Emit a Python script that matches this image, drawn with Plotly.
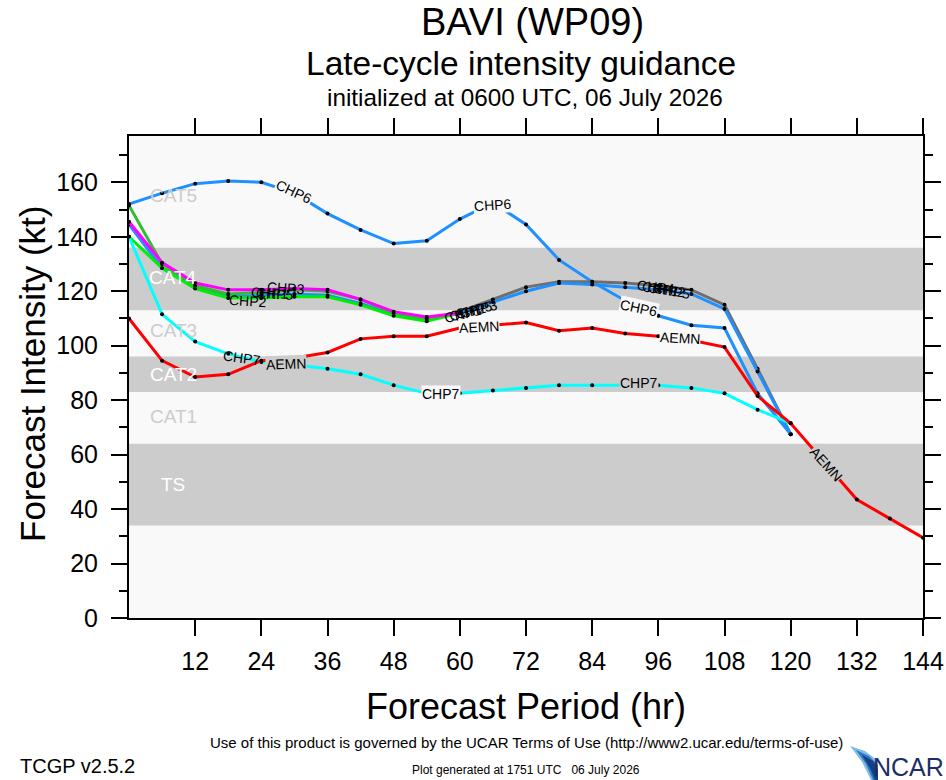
import plotly.graph_objects as go

W, H = 946, 780
L, R, T, B = 129, 23, 136, 162

# forecast hours, 6-hourly
hours = list(range(0, 145, 6))

# intensities (kt)
chp6 = [152, 156, 159.5, 160.5, 160, 156, 148.5, 142.5, 137.5, 138.5, 146.5,
        152.5, 144.5, 131.5, 123.5, 116.5, 111, 107.5, 106.5, 82.5, 67.5]
chp4_hours = hours[9:21]
chp4 = [109.5, 112.5, 117, 121.5, 123.5, 123.5, 123, 122, 120.5, 115, 91.5, 67.5]
chp5 = [144.5, 128.5, 121.5, 118, 118.5, 119, 118.5, 115.5, 111.5, 109.5, 112,
        116, 120, 123, 122.5, 121.5, 120.5, 119, 113.5, 90.5, 67.5]
chp2 = [140, 128.5, 121, 117.5, 117.5, 118, 118, 115, 111, 109, 112]
chp1 = [151.5, 130, 122, 119, 119.5, 120.5, 120, 117, 112, 110, 112]
chp3 = [145.5, 130.5, 123, 120.5, 120.5, 121, 120.5, 117, 112.5, 110.5, 112]
chp7 = [140, 111.5, 101.5, 97, 94, 93, 91.5, 89.5, 85.5, 82.5, 82.5, 83.5,
        84.5, 85.5, 85.5, 85.5, 85.5, 84.5, 82.5, 76.5, 71.5]
aemn = [110, 94.5, 88.5, 89.5, 94.5, 95.5, 97.5, 102.5, 103.5, 103.5, 106.5,
        107.5, 108.5, 105.5, 106.5, 104.5, 103.5, 102, 99.5, 81.5, 71.5, 57.5,
        43.5, 36.5, 29.5]

# saffir-simpson bands
bands = [(34, 64), (83, 96), (113, 136)]
cat_names = ["CAT5", "CAT4", "CAT3", "CAT2", "CAT1", "TS"]
cat_kt = [155, 125, 105.5, 89.5, 74, 49]

xticks = list(range(12, 145, 12))

LIGHT = "#f9f9f9"
BAND = "#cccccc"
FONT = "Liberation Sans, Arial, sans-serif"


def px_x(x):
    return (x - L) / (W - L - R)


def px_y(y):
    return (H - B - y) / (H - T - B)


def page_text(txt, xp, yp, size, anchor="center", angle=0, color="black"):
    # text placed by page pixel position
    return dict(x=px_x(xp), y=px_y(yp), xref="paper", yref="paper",
                text=txt, showarrow=False,
                xanchor=anchor, yanchor="middle", textangle=angle,
                font=dict(family=FONT, size=size, color=color))


fig = go.Figure()

# (name, x, y, colour) in drawing order
series = [
    ("CHP6", hours[:len(chp6)], chp6, "#1e90ff"),
    ("CHP4", chp4_hours, chp4, "#6e6e6e"),
    ("CHP5", hours[:len(chp5)], chp5, "#1e90ff"),
    ("CHP2", hours[:len(chp2)], chp2, "#00ee00"),
    ("CHP1", hours[:len(chp1)], chp1, "#33bb33"),
    ("CHP3", hours[:len(chp3)], chp3, "#ff00ff"),
    ("CHP7", hours[:len(chp7)], chp7, "#00ffff"),
    ("AEMN", hours[:len(aemn)], aemn, "#ff0000"),
]
for name, x, y, col in series:
    fig.add_trace(go.Scatter(x=x, y=y, name=name, mode="lines+markers",
                             line=dict(color=col, width=3),
                             marker=dict(color="black", size=4),
                             showlegend=False))

shapes = []
for lo, hi in bands:
    shapes.append(dict(type="rect", xref="paper", x0=0, x1=1, yref="y", y0=lo, y1=hi,
                       fillcolor=BAND, line=dict(width=0), layer="below"))

annotations = []
# category labels
for nm, kt in zip(cat_names, cat_kt):
    on_band = any(lo <= kt <= hi for lo, hi in bands)
    annotations.append(dict(x=8, y=kt, xref="x", yref="y", text=nm, showarrow=False,
                            font=dict(family=FONT, size=19,
                                      color="white" if on_band else "#cccccc")))

# line labels: text, hour, kt, angle, background
line_labels = [
    ("CHP6", 30, 156.5, 25, LIGHT),
    ("CHP6", 66, 151.5, -4, LIGHT),
    ("CHP6", 92.5, 114, 12, LIGHT),
    ("CHP7", 20.5, 95.5, 8, None),
    ("AEMN", 28.5, 93.3, -2, BAND),
    ("CHP7", 56.5, 82.3, 0, LIGHT),
    ("AEMN", 63.5, 107, -3, LIGHT),
    ("CHP7", 92.5, 86.2, 0, BAND),
    ("AEMN", 100, 102.8, 3, LIGHT),
    ("AEMN", 126.4, 56.5, 48, BAND),
    ("CHP2", 21.5, 116.3, 4, None),
    ("CHP1", 25.5, 119.5, 3, None),
    ("CHP5", 26.5, 119, 3, None),
    ("CHP3", 28.5, 121.2, 4, None),
    ("CHP1", 60.5, 111.8, -14, None),
    ("CHP2", 61.5, 112.2, -14, None),
    ("CHP5", 62.5, 113, -14, None),
    ("CHP3", 63.5, 113.6, -14, None),
    ("CHP4", 95.5, 121.4, 6, None),
    ("CHP1", 96.5, 120.8, 8, None),
    ("CHP2", 97.5, 120.5, 8, None),
    ("CHP5", 98.5, 120, 10, None),
]
for txt, hx, kt, ang, bg in line_labels:
    a = dict(x=hx, y=kt, xref="x", yref="y", text=txt, showarrow=False, textangle=ang,
             font=dict(family=FONT, size=14, color="black"), borderpad=0)
    if bg:
        a["bgcolor"] = bg
    annotations.append(a)

# titles
annotations.append(page_text("BAVI (WP09)", 532, 22, 38))
annotations.append(page_text("Late-cycle intensity guidance", 521, 63, 33.5))
annotations.append(page_text("initialized at 0600 UTC, 06 July 2026", 525, 97, 24.3))

# axis titles
annotations.append(page_text("Forecast Period (hr)", 526, 706, 36))
annotations.append(page_text("Forecast Intensity (kt)", 32, 374, 35, angle=-90))

# footer
annotations.append(page_text("Use of this product is governed by the UCAR Terms of Use (http://www2.ucar.edu/terms-of-use)",
                             526, 742, 15))
annotations.append(page_text("TCGP v2.5.2", 18, 766, 20, anchor="left"))
annotations.append(page_text("Plot generated at 1751 UTC   06 July 2026", 526, 770, 12))
annotations.append(page_text("NCAR", 946, 767, 25, anchor="right", color="#1b2f62"))


# ncar swoosh
def path(pts):
    return "M " + " L ".join(f"{px_x(a):.4f},{px_y(b):.4f}" for a, b in pts) + " Z"


shapes.append(dict(type="path", xref="paper", yref="paper",
                   path=path([(850, 746), (865, 751), (878, 761), (878, 780), (871, 780), (862, 762)]),
                   fillcolor="#7fbde6", line=dict(width=0)))
shapes.append(dict(type="path", xref="paper", yref="paper",
                   path=path([(856, 750), (869, 756), (878, 765), (878, 780), (873, 780), (866, 764)]),
                   fillcolor="#2f78c4", line=dict(width=0)))
shapes.append(dict(type="path", xref="paper", yref="paper",
                   path=path([(862, 755), (873, 761), (878, 769), (878, 780), (875, 780), (870, 768)]),
                   fillcolor="#173f86", line=dict(width=0)))

axis_common = dict(showline=True, linecolor="black", linewidth=2, mirror="allticks",
                   ticks="outside", ticklen=16, tickwidth=2, tickcolor="black",
                   showgrid=False, zeroline=False, automargin=False,
                   tickfont=dict(family=FONT, size=25, color="black"))

fig.update_xaxes(range=[0, 144], tickvals=xticks, ticklabelstandoff=4, **axis_common)
fig.update_yaxes(range=[0, 177], tick0=0, dtick=20, ticklabelstandoff=8,
                 minor=dict(dtick=10, ticks="outside", ticklen=8, tickwidth=2, tickcolor="black"),
                 **axis_common)

fig.update_layout(width=W, height=H, margin=dict(l=L, r=R, t=T, b=B),
                  plot_bgcolor=LIGHT, paper_bgcolor="white",
                  shapes=shapes, annotations=annotations)

fig.write_html("out.html", config={"displayModeBar": False},
               post_script="document.body.style.margin='0px';")
